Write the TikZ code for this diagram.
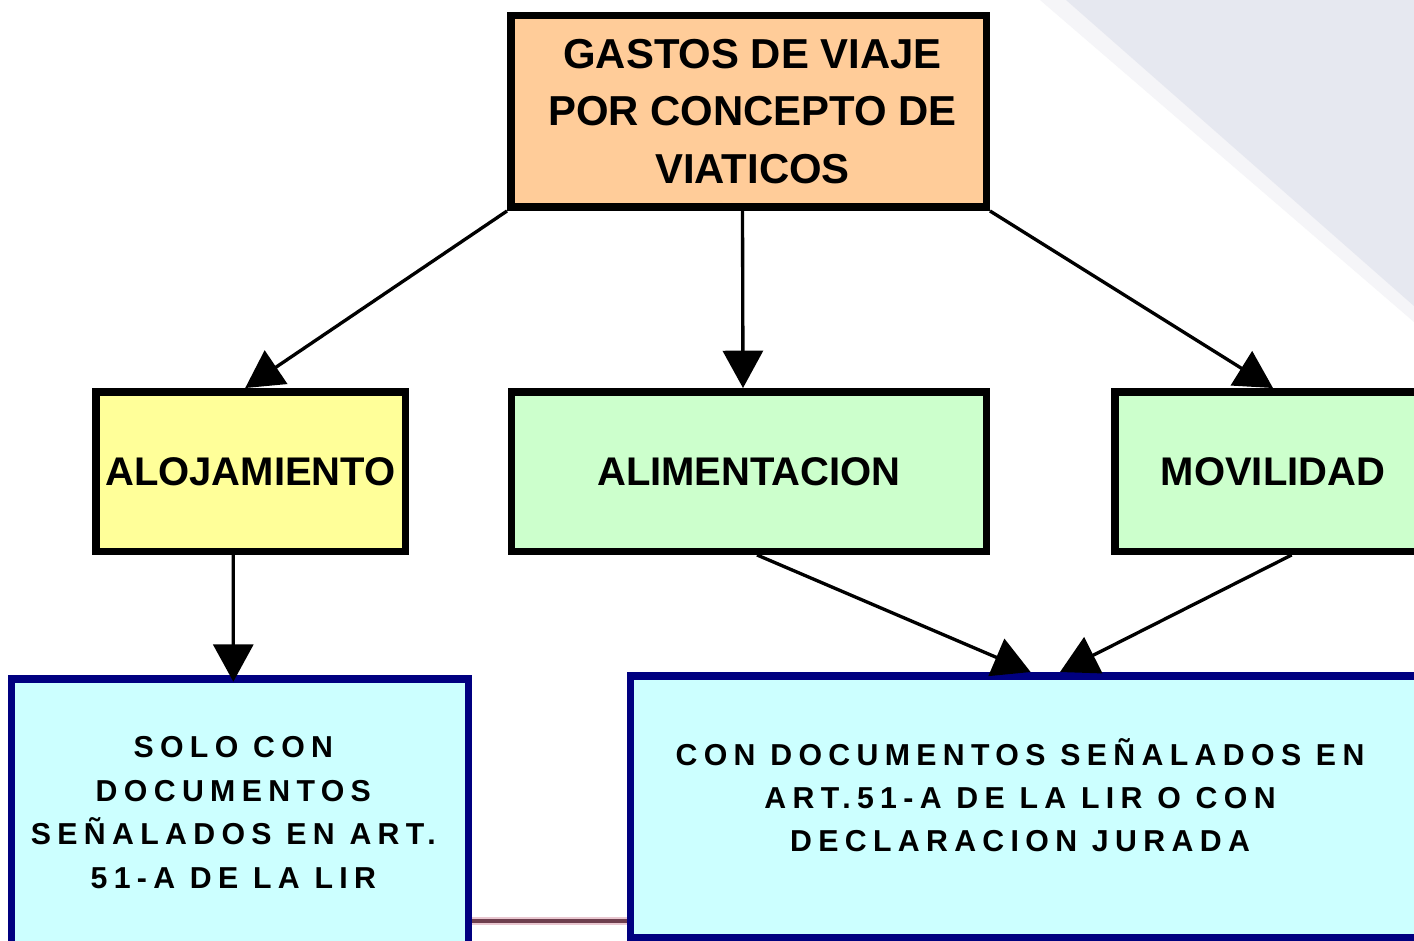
\documentclass[tikz,border=0pt]{standalone}
\usepackage{fontspec}
\setmainfont{Liberation Sans}
\newfontfamily\spacedfont[LetterSpace=21]{Liberation Sans}
\usetikzlibrary{arrows.meta,calc}
\definecolor{peach}{HTML}{FFCC99}
\definecolor{paleyellow}{HTML}{FFFF99}
\definecolor{palegreen}{HTML}{CCFFCC}
\definecolor{palecyan}{HTML}{CCFFFF}
\definecolor{navyline}{HTML}{000080}
\definecolor{bgband}{HTML}{F5F5F8}
\definecolor{bgshade}{HTML}{E6E8F0}
\definecolor{rulefringe}{HTML}{E9C7D0}
\definecolor{rulecore}{HTML}{6E3F4E}
\begin{document}
\begin{tikzpicture}[x=0.75pt,y=-0.75pt,
  blackbox/.style={draw=black, line width=5.6pt, inner sep=0pt, align=center,
    minimum height=119.6pt, font=\bfseries\fontsize{30}{36}\selectfont},
  navybox/.style={draw=navyline, line width=5.6pt, fill=palecyan, inner sep=0pt, align=center},
  navytext/.style={align=center, font=\spacedfont\bfseries\fontsize{22.7}{32.6}\selectfont},
  arr/.style={line width=2.5pt, -{Triangle[length=28pt,width=30pt]}}]
\useasboundingbox (0,0) rectangle (1414,941);
\clip (0,0) rectangle (1414,941);
\fill[white] (0,0) rectangle (1414,941);
% background shading (top right)
\fill[bgband] (1040,0) -- (1414,0) -- (1414,322) -- cycle;
\fill[bgshade] (1066,0) -- (1414,0) -- (1414,306) -- cycle;
% rule at the bottom
\draw[rulefringe, line width=6pt] (460,921) -- (640,921);
\draw[rulecore, line width=3.4pt] (460,921) -- (640,921);
% boxes
\node[blackbox, fill=peach, minimum width=356.6pt, minimum height=143.6pt,
  font=\bfseries\fontsize{31.4}{43}\selectfont] (top) at (748.5,111.5)
  {\hspace*{6pt}GASTOS DE VIAJE\\\hspace*{6pt}POR CONCEPTO DE\\\hspace*{6pt}VIATICOS};
\node[blackbox, fill=paleyellow, minimum width=232.1pt] (aloj) at (250.5,471.5) {ALOJAMIENTO};
\node[blackbox, fill=palegreen, minimum width=355.9pt] (alim) at (749,471.5) {ALIMENTACION};
\node[blackbox, fill=palegreen, minimum width=240pt] (mov) at (1275,471.5) {\hspace*{-3pt}MOVILIDAD};
\node[navybox, minimum width=342.4pt, minimum height=200.6pt,
  label={[name=docltext, navytext, xshift=-5pt]center:SOLO CON\\DOCUMENTOS\\SEÑALADOS EN ART.\\51-A DE LA LIR}]
  (docl) at (240,812.5) {};
\node[navybox, minimum width=593pt, minimum height=196.1pt,
  label={[name=docrtext, navytext, yshift=8.5pt, xshift=-4.5pt]center:CON DOCUMENTOS SEÑALADOS EN\\ART.51-A DE LA LIR O CON\\DECLARACION JURADA}]
  (docr) at (1026,806.5) {};
% connectors
\draw[arr] (top.south west) -- ([xshift=-4pt]aloj.north);
\draw[arr] ([xshift=-4.5pt]top.south) -- ([xshift=-4.5pt]alim.north);
\draw[arr] (top.south east) -- ([xshift=-1.5pt]mov.north);
\draw[arr] ([xshift=-13pt]aloj.south) -- ([xshift=-5pt,yshift=-5pt]docl.north);
\draw[arr] ([xshift=6pt]alim.south) -- ([xshift=3.5pt]docr.north);
\draw[arr] ([xshift=12.5pt]mov.south) -- ([xshift=25.5pt]docr.north);
\end{tikzpicture}
\end{document}
